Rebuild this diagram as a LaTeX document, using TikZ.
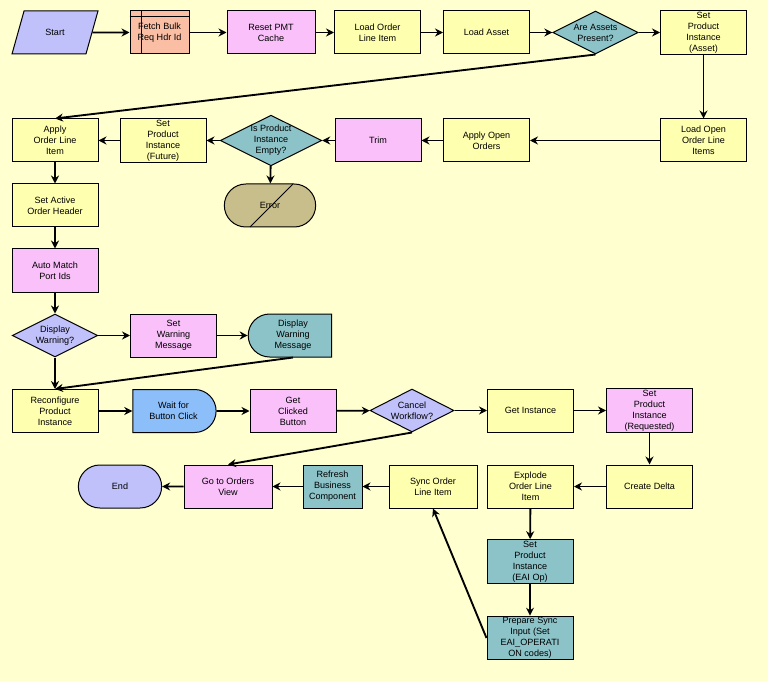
\documentclass[tikz,border=0pt]{standalone}
\usepackage{fontspec}
\setmainfont{Liberation Sans}
\usetikzlibrary{shapes.geometric,shapes.misc,arrows.meta,calc}
\definecolor{bgc}{RGB}{255,255,208}
\definecolor{ylw}{RGB}{255,255,176}
\definecolor{pnk}{RGB}{250,192,250}
\definecolor{slm}{RGB}{250,190,165}
\definecolor{lav}{RGB}{192,192,250}
\definecolor{tea}{RGB}{140,195,200}
\definecolor{blu}{RGB}{140,190,250}
\definecolor{olv}{RGB}{200,190,140}
\newcommand\dfont{\fontsize{6.8}{8.2}\selectfont}
\tikzset{
  base/.style={draw=black, line width=0.75pt, minimum width=64.5pt, minimum height=32.25pt,
    inner sep=1pt, align=center, font=\dfont},
  ybox/.style={base, fill=ylw},
  pbox/.style={base, fill=pnk},
  tbox/.style={base, fill=tea},
  dia/.style={base, diamond, aspect=2, inner sep=0pt, minimum width=64pt, minimum height=32.25pt},
  conn/.style={line width=1.4pt, -{Stealth[length=6pt,width=6pt]}},
}
\begin{document}
\begin{tikzpicture}[x=0.75pt,y=-0.75pt]
\fill[bgc] (0,0) rectangle (768,681);
\useasboundingbox (0,0) rectangle (768,681);
% row 1
\node[base, fill=lav, trapezium, trapezium left angle=65, trapezium right angle=115, trapezium stretches=true, minimum width=64.5pt] (start) at (55,32.5) {Start};
\node[base, fill=slm, minimum width=44.25pt] (fetch) at (159.5,32.5) {Fetch Bulk\\Req Hdr Id};
\draw[line width=0.75pt] ($(fetch.north west)+(12,0)$) -- ($(fetch.south west)+(12,0)$);
\draw[line width=0.75pt] ($(fetch.north west)+(0,6)$) -- ($(fetch.north east)+(0,6)$);
\node[pbox, minimum width=66pt] (reset) at (271,32.5) {Reset PMT\\Cache};
\node[ybox] (loadoli) at (377.5,32.5) {Load Order\\Line Item};
\node[ybox] (loadasset) at (486.5,32.5) {Load Asset};
\node[dia, fill=tea] (assets) at (595.5,32.5) {Are Assets\\Present?};
\node[ybox] (setpiasset) at (703.5,32.5) {Set\\Product\\Instance\\(Asset)};
% row 2
\node[ybox] (applyoli) at (55,140.5) {Apply\\Order Line\\Item};
\node[ybox] (setpifut) at (163,140.5) {Set\\Product\\Instance\\(Future)};
\node[dia, fill=tea] (isempty) at (271,140.5) {Is Product\\Instance\\Empty?};
\node[pbox] (trim) at (378,140.5) {Trim};
\node[ybox] (applyopen) at (486.5,140.5) {Apply Open\\Orders};
\node[ybox] (loadopen) at (703.5,140.5) {Load Open\\Order Line\\Items};
\node[base, fill=olv, rounded rectangle, minimum width=70.5pt] (error) at (270,205.5) {Error};
\draw[line width=0.75pt] ($(error.center)+(-20,21.5)$) -- ($(error.center)+(23,-21.5)$);
% column
\node[ybox] (setactive) at (55,205.5) {Set Active\\Order Header};
\node[pbox] (automatch) at (55,270.5) {Auto Match\\Port Ids};
\node[dia, fill=lav] (dispwarn) at (55,335.5) {Display\\Warning?};
\node[pbox] (setwarn) at (173.5,335.5) {Set\\Warning\\Message};
\node[base, fill=tea, rounded rectangle, rounded rectangle right arc=none] (dispmsg) at (293,335.5) {Display\\Warning\\Message};
\node[ybox] (reconf) at (55,411) {Reconfigure\\Product\\Instance};
\node[base, fill=blu, rounded rectangle, rounded rectangle left arc=none] (wait) at (173.5,411) {Wait for\\Button Click};
\node[pbox] (getclicked) at (293,411) {Get\\Clicked\\Button};
\node[dia, fill=lav, minimum width=63pt] (cancel) at (412,410.5) {Cancel\\Workflow?};
\node[ybox] (getinst) at (530.5,410.5) {Get Instance};
\node[pbox] (setpireq) at (649.5,410.5) {Set\\Product\\Instance\\(Requested)};
\node[ybox] (createdelta) at (649.5,486.5) {Create Delta};
\node[ybox] (explode) at (530.5,486.5) {Explode\\Order Line\\Item};
\node[ybox, minimum width=66pt] (syncoli) at (433,486.5) {Sync Order\\Line Item};
\node[tbox, minimum width=44.25pt] (refresh) at (332.5,486.5) {Refresh\\Business\\Component};
\node[pbox, minimum width=66pt] (gotoorders) at (228,486.5) {Go to Orders\\View};
\node[base, fill=lav, rounded rectangle] (end) at (120,486.5) {End};
\node[tbox] (setpieai) at (530,561.5) {Set\\Product\\Instance\\(EAI Op)};
\node[tbox, minimum height=31.5pt] (prepare) at (530,638) {Prepare Sync\\Input (Set\\EAI\_OPERATI\\ON codes)};
% connectors
\draw[conn] (start) -- (fetch);
\draw[conn] (fetch) -- (reset);
\draw[conn] (reset) -- (loadoli);
\draw[conn] (loadoli) -- (loadasset);
\draw[conn] (loadasset) -- (assets);
\draw[conn] (assets) -- (setpiasset);
\draw[conn] (assets.south) -- (applyoli.north);
\draw[conn] (setpiasset) -- (loadopen);
\draw[conn] (loadopen) -- (applyopen);
\draw[conn] (applyopen) -- (trim);
\draw[conn] (trim) -- (isempty);
\draw[conn] (isempty) -- (setpifut);
\draw[conn] (setpifut) -- (applyoli);
\draw[conn] (isempty) -- (error);
\draw[conn] (applyoli) -- (setactive);
\draw[conn] (setactive) -- (automatch);
\draw[conn] (automatch) -- (dispwarn);
\draw[conn] (dispwarn) -- (setwarn);
\draw[conn] (setwarn) -- (dispmsg);
\draw[conn] (dispmsg.south) -- (reconf.north);
\draw[conn] (dispwarn) -- (reconf);
\draw[conn] (reconf) -- (wait);
\draw[conn] (wait) -- (getclicked);
\draw[conn] (getclicked) -- (cancel);
\draw[conn] (cancel) -- (getinst);
\draw[conn] (getinst) -- (setpireq);
\draw[conn] (setpireq) -- (createdelta);
\draw[conn] (createdelta) -- (explode);
\draw[conn] (explode) -- (setpieai);
\draw[conn] (setpieai) -- (prepare);
\draw[conn] (prepare.west) -- (syncoli.south);
\draw[conn] (cancel.south) -- (gotoorders.north);
\draw[conn] (syncoli) -- (refresh);
\draw[conn] (refresh) -- (gotoorders);
\draw[conn] (gotoorders) -- (end);
\end{tikzpicture}
\end{document}
